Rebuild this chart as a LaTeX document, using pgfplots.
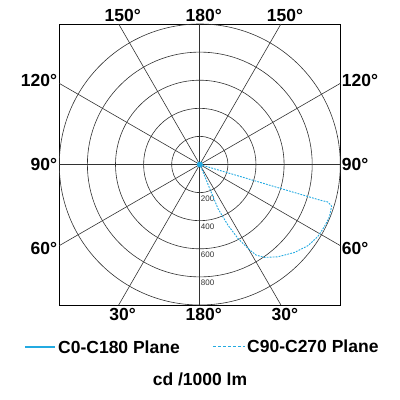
\documentclass[border=0pt]{standalone}
\usepackage{pgfplots}
\pgfplotsset{compat=1.18}
\usepackage{fontspec}
\setmainfont{Liberation Sans}
\definecolor{beam}{RGB}{35,170,225}
\definecolor{gridc}{RGB}{50,50,50}
\tikzset{
  angle/.style={font=\fontsize{17.5}{17.5}\selectfont\bfseries, inner sep=0pt},
  rlab/.style={font=\fontsize{8}{8}\selectfont, text=gridc, inner sep=0pt, anchor=north west, xshift=1pt, yshift=-3pt},
  gl/.style={gridc, line width=0.6pt},
}

% C0-C180 plane: practically zero, a small blob at the centre
\pgfplotstableread{
ang r
0 18
60 18
120 18
180 18
240 18
300 18
360 18
}\planeA

% C90-C270 plane (angle in degrees, cd/1000 lm)
\pgfplotstableread{
ang r
-16 0
-16.5 900
-16.3 948
-17.5 984
-22 995
-26.6 991
-31.5 984
-37 962
-42.9 920
-49.8 860
-55.1 806
-58.1 760
-60.2 689
-62.7 593
-65.1 477
-67.6 340
-67.6 186
-66.5 59
-67 0
}\planeB

\begin{document}
\begin{tikzpicture}
\path[use as bounding box] (-59.3pt,-95pt) rectangle (340.7pt,305pt);
\begin{axis}[
    scale only axis,
    width=281pt, height=281pt,
    xmin=-1000, xmax=1000, ymin=-1000, ymax=1000,
    xtick=\empty, ytick=\empty,
    axis line style={black, line width=0.8pt},
    clip=false,
]
% polar grid
\pgfplotsinvokeforeach{200,400,600,800,1000}{
  \draw[gl] (axis cs:0,0) circle [radius=#1];
}
\draw[gl] (axis cs:0,-1000) -- (axis cs:0,1000);
\draw[gl] (axis cs:-1000,0) -- (axis cs:1000,0);
\draw[gl] (axis cs:-1000,-577.35) -- (axis cs:1000,577.35);
\draw[gl] (axis cs:-1000,577.35) -- (axis cs:1000,-577.35);
\draw[gl] (axis cs:-577.35,-1000) -- (axis cs:577.35,1000);
\draw[gl] (axis cs:-577.35,1000) -- (axis cs:577.35,-1000);

% radial value labels
\node[rlab] at (axis cs:0,-200) {200};
\node[rlab] at (axis cs:0,-400) {400};
\node[rlab] at (axis cs:0,-600) {600};
\node[rlab] at (axis cs:0,-800) {800};

% angle labels
\node[angle, anchor=south, xshift=4pt, yshift=2pt] at (axis cs:-577.35,1000) {150°};
\node[angle, anchor=south, xshift=4pt, yshift=2pt] at (axis cs:0,1000) {180°};
\node[angle, anchor=south, xshift=4pt, yshift=2pt] at (axis cs:577.35,1000) {150°};
\node[angle, anchor=north, xshift=4pt, yshift=-3pt] at (axis cs:-577.35,-1000) {30°};
\node[angle, anchor=north, xshift=4pt, yshift=-3pt] at (axis cs:0,-1000) {180°};
\node[angle, anchor=north, xshift=4pt, yshift=-3pt] at (axis cs:577.35,-1000) {30°};
\node[angle, anchor=east, xshift=-2pt] at (axis cs:-1000,600) {120°};
\node[angle, anchor=east, xshift=-2pt] at (axis cs:-1000,0) {90°};
\node[angle, anchor=east, xshift=-2pt] at (axis cs:-1000,-600) {60°};
\node[angle, anchor=west, xshift=1.5pt] at (axis cs:1000,600) {120°};
\node[angle, anchor=west, xshift=1.5pt] at (axis cs:1000,0) {90°};
\node[angle, anchor=west, xshift=1.5pt] at (axis cs:1000,-600) {60°};

% photometric curves
\addplot[beam, line width=1pt, fill=beam, data cs=polar] table[x=ang, y=r] {\planeA};
\addplot[beam, line width=0.9pt, dash pattern=on 1.8pt off 1.2pt, data cs=polar] table[x=ang, y=r] {\planeB};
\end{axis}

% legend and unit
\draw[beam, line width=1.3pt] (-34.3pt,-42pt) -- (-4.3pt,-42pt);
\node[anchor=west, inner sep=0pt, font=\fontsize{17.5}{17.5}\selectfont\bfseries] at (-1.3pt,-42pt) {C0-C180 Plane};
\draw[beam, line width=1pt, dash pattern=on 3pt off 2pt] (153.7pt,-41pt) -- (185.7pt,-41pt);
\node[anchor=west, inner sep=0pt, font=\fontsize{17.5}{17.5}\selectfont\bfseries] at (187.7pt,-41pt) {C90-C270 Plane};
\node[anchor=base, inner sep=0pt, font=\fontsize{17.5}{17.5}\selectfont\bfseries] at (140.7pt,-80pt) {cd /1000 lm};
\end{tikzpicture}
\end{document}
